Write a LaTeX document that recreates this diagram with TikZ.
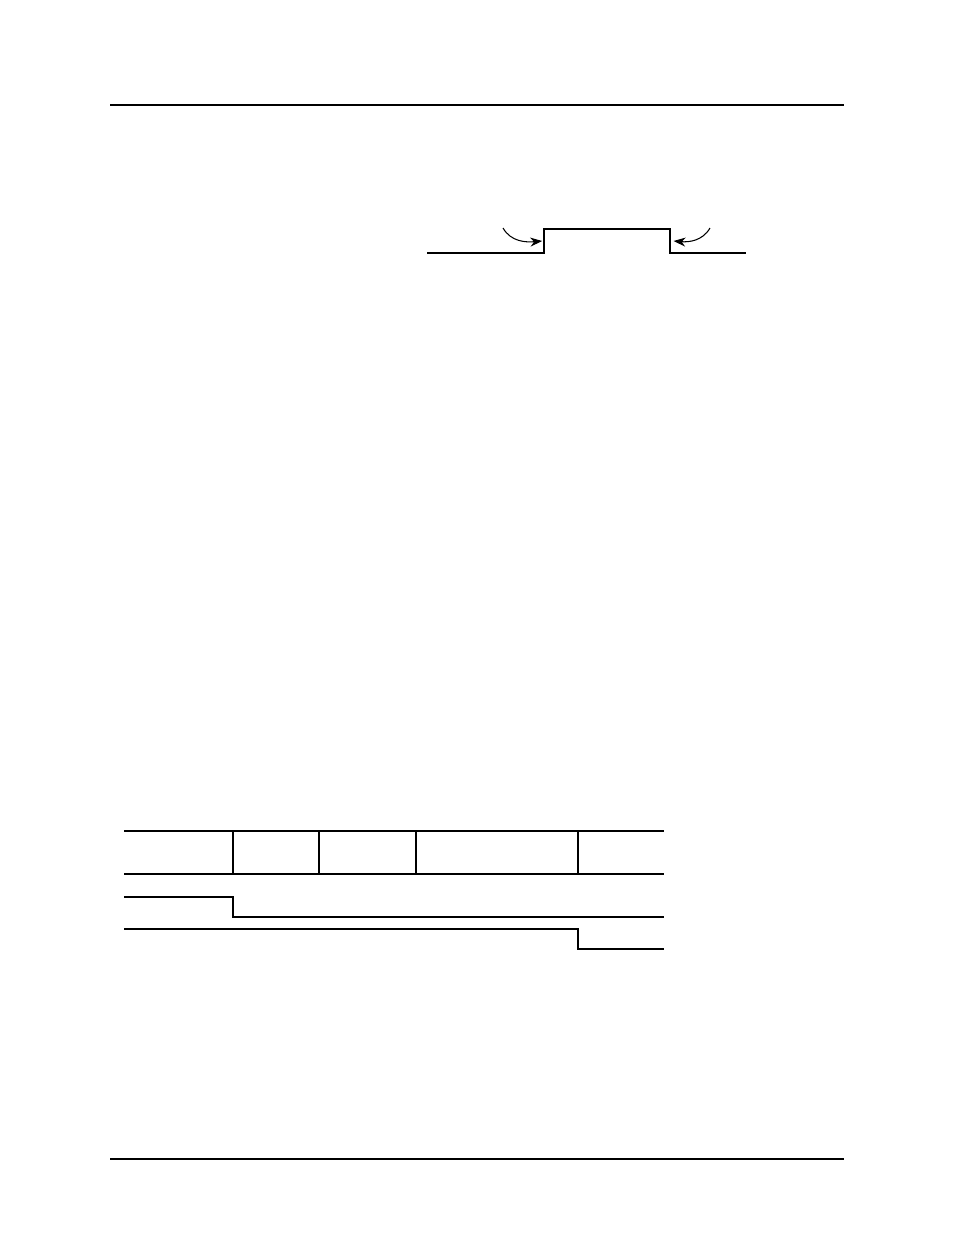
\documentclass[tikz,border=0pt]{standalone}
\usetikzlibrary{arrows.meta}
\begin{document}
\begin{tikzpicture}[
      x=0.02cm, y=-0.02cm,
      wave/.style={line width=0.75pt, line join=miter},
      rule/.style={line width=1pt},
      mark arrow/.style={line width=0.6pt, -{Stealth[length=2.4mm, width=1.8mm]}}
    ]
    \useasboundingbox (0,0) rectangle (954,1235);

    % page rules
    \draw[rule] (110,105) -- (844,105);
    \draw[rule] (110,1159) -- (844,1159);

    % pulse
    \coordinate (rise) at (544,241);
    \coordinate (fall) at (670,241);
    \draw[wave] (427,253) -- (544,253) -- (544,229) -- (670,229) -- (670,253) -- (746,253);
    \draw[mark arrow] (503,228) to[out=-60, in=185] ([xshift=-1]rise);
    \draw[mark arrow] (710,228) to[out=-120, in=-5] ([xshift=2]fall);

    % field table
    \draw[wave] (124,831) -- (664,831);
    \draw[wave] (124,874) -- (664,874);
    \foreach \x in {233,319,416,578}
      \draw[wave] (\x,831) -- (\x,874);

    % signal traces
    \draw[wave] (124,897) -- (233,897) -- (233,917) -- (664,917);
    \draw[wave] (124,929) -- (578,929) -- (578,949) -- (664,949);
  \end{tikzpicture}
\end{document}
